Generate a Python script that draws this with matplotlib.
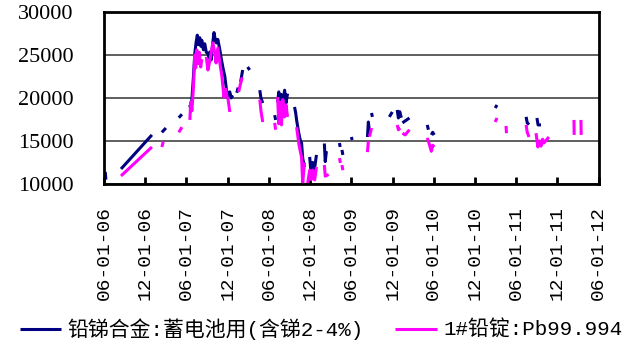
import numpy as np
import matplotlib
matplotlib.use('Agg')
import matplotlib.pyplot as plt
import matplotlib.dates as mdates

# lead-antimony alloy for batteries (navy); None marks a gap in the series
alloy_dates = [
    '2006-06-06', '2006-06-09', '2006-06-10',
    '2006-08-15', '2006-12-30', '2006-12-31',
    '2007-02-12', '2007-03-02', '2007-03-03',
    '2007-04-28', '2007-05-12', '2007-05-13',
    '2007-06-16', '2007-06-20', '2007-06-25', '2007-07-02', '2007-07-08',
    '2007-07-14', '2007-07-19', '2007-07-24', '2007-07-30', '2007-08-04',
    '2007-08-08', '2007-08-15', '2007-08-21', '2007-08-28', '2007-09-04',
    '2007-09-08', '2007-09-13', '2007-09-18', '2007-09-26', '2007-10-01',
    '2007-10-05', '2007-10-12', '2007-10-18', '2007-10-27', '2007-11-02',
    '2007-11-09', '2007-11-18', '2007-11-25', '2007-12-01', '2007-12-10',
    '2007-12-16', '2007-12-23', '2007-12-24',
    '2008-01-10', '2008-01-16', '2008-01-17',
    '2008-01-27', '2008-02-05', '2008-02-06',
    '2008-02-27', '2008-03-07', '2008-03-08',
    '2008-04-21', '2008-04-26', '2008-05-04', '2008-05-05',
    '2008-06-26', '2008-06-30', '2008-07-01',
    '2008-07-09', '2008-07-14', '2008-07-20', '2008-07-25', '2008-07-31',
    '2008-08-09', '2008-08-15', '2008-08-22', '2008-08-23',
    '2008-09-22', '2008-09-27', '2008-10-01', '2008-10-10', '2008-10-18',
    '2008-10-23', '2008-10-28', '2008-11-05', '2008-11-06',
    '2008-11-28', '2008-12-04', '2008-12-11', '2008-12-18', '2008-12-28',
    '2008-12-29',
    '2009-02-01', '2009-02-05', '2009-02-10', '2009-02-11',
    '2009-04-09', '2009-04-12', '2009-04-13',
    '2009-04-20', '2009-04-24', '2009-04-25',
    '2009-06-01', '2009-06-04', '2009-06-05',
    '2009-08-11', '2009-08-15', '2009-08-20', '2009-08-21',
    '2009-08-29', '2009-09-02', '2009-09-03',
    '2009-11-16', '2009-11-29', '2009-11-30',
    '2009-12-21', '2009-12-26', '2010-01-01', '2010-01-08', '2010-01-09',
    '2010-01-13', '2010-02-13', '2010-02-14',
    '2010-05-03', '2010-05-08', '2010-05-09',
    '2010-05-21', '2010-05-27', '2010-06-03', '2010-06-04',
    '2011-02-28', '2011-03-08', '2011-03-09',
    '2011-07-15', '2011-07-20', '2011-07-28', '2011-07-29',
    '2011-09-01', '2011-09-06', '2011-09-19',
]
alloy_values = [
    11400, 10500, None,
    11740, 15700, None,
    16000, 16500, None,
    17700, 18100, None,
    19200, 18600, 19800, 22500, 25200,
    26500, 27300, 26200, 27000, 26000,
    26700, 25600, 26300, 25300, 25200,
    24650, 25350, 24400, 26500, 27600,
    27000, 26400, 26800, 25600, 24600,
    23600, 22500, 21000, 20100, 20700,
    20000, 20300, None,
    20600, 21200, None,
    21860, 23250, None,
    23600, 23250, None,
    20900, 20000, 19400, None,
    18000, 17440, None,
    19500, 20700, 18950, 20400, 19200,
    20900, 19400, 20500, None,
    18950, 18250, 17440, 16000, 15000,
    14760, 13000, 11970, None,
    13140, 11280, 12500, 11500, 13370,
    None,
    14700, 12600, 13800, None,
    14760, 14300, None,
    13950, 13370, None,
    15460, 15100, None,
    15460, 17200, 16000, None,
    18250, 17800, None,
    17800, 18370, None,
    18600, 17670, 18400, 17700, None,
    17100, 17670, None,
    16860, 16300, None,
    15700, 16000, 15700, None,
    18830, 19180, None,
    17800, 17100, 16900, None,
    17670, 16860, 16860,
]

# 1# lead ingot Pb99.994 (magenta)
ingot_dates = [
    '2006-08-15', '2006-12-30', '2006-12-31',
    '2007-02-12', '2007-02-18', '2007-02-19',
    '2007-04-28', '2007-05-12', '2007-05-13',
    '2007-06-16', '2007-06-20', '2007-06-25', '2007-07-02', '2007-07-08',
    '2007-07-12', '2007-07-17', '2007-07-22', '2007-07-28', '2007-08-03',
    '2007-08-08', '2007-08-09',
    '2007-08-28', '2007-09-04', '2007-09-10', '2007-09-17', '2007-09-26',
    '2007-10-05', '2007-10-10', '2007-10-18', '2007-10-27', '2007-11-05',
    '2007-11-14', '2007-11-22', '2007-11-28', '2007-11-29',
    '2007-12-01', '2007-12-10', '2007-12-11',
    '2008-01-18', '2008-01-27', '2008-02-03', '2008-02-04',
    '2008-04-21', '2008-04-26', '2008-05-04', '2008-05-05',
    '2008-06-26', '2008-06-30', '2008-07-01',
    '2008-07-09', '2008-07-14', '2008-07-20', '2008-07-26', '2008-08-01',
    '2008-08-09', '2008-08-15', '2008-08-22', '2008-08-23',
    '2008-10-01', '2008-10-12', '2008-10-23', '2008-10-28', '2008-11-05',
    '2008-11-06',
    '2008-11-19', '2008-11-28', '2008-12-05', '2008-12-11', '2008-12-20',
    '2008-12-28', '2008-12-29',
    '2009-02-01', '2009-02-05', '2009-02-20', '2009-02-21',
    '2009-04-09', '2009-04-13', '2009-04-14',
    '2009-04-20', '2009-04-24', '2009-04-25',
    '2009-08-11', '2009-08-15', '2009-08-16',
    '2009-08-20', '2009-08-29', '2009-08-30',
    '2009-12-21', '2009-12-26', '2010-01-03', '2010-01-04',
    '2010-01-13', '2010-01-25', '2010-02-13', '2010-02-14',
    '2010-05-03', '2010-05-10', '2010-05-21', '2010-05-27', '2010-06-03',
    '2010-06-04',
    '2011-02-28', '2011-03-08', '2011-03-09',
    '2011-04-17', '2011-04-19', '2011-04-20',
    '2011-07-15', '2011-07-20', '2011-07-28', '2011-07-29',
    '2011-08-28', '2011-09-05', '2011-09-12', '2011-09-19', '2011-09-26',
    '2011-10-02', '2011-10-24', '2011-10-25',
    '2012-02-12', '2012-02-13', '2012-02-14',
    '2012-03-14', '2012-03-15',
]
ingot_values = [
    10930, 14300, None,
    14300, 14900, None,
    16000, 16600, None,
    17440, 19530, 18500, 21300, 25000,
    23500, 25580, 24000, 25300, 23600,
    24500, None,
    24770, 23250, 24000, 25000, 26400,
    25200, 24070, 25800, 24070, 22500,
    20100, 21000, 20100, None,
    20100, 18370, None,
    20700, 21700, 22400, None,
    19800, 18500, 17200, None,
    17100, 16300, None,
    20100, 17000, 19500, 16860, 19800,
    17800, 19180, 17800, None,
    16600, 14500, 13100, 10100, 12500,
    None,
    10100, 11600, 10500, 11600, 10460,
    11970, None,
    12200, 10900, 11100, None,
    13000, 12440, None,
    12200, 11600, None,
    13700, 15000, None,
    15500, 16500, None,
    16860, 16300, 16500, None,
    15900, 15700, 16300, None,
    15350, 14800, 13800, 14500, 14300,
    None,
    17200, 17670, None,
    16740, 15900, None,
    16860, 16000, 15460, None,
    15900, 14300, 15000, 14400, 15200,
    14760, 15460, None,
    17440, 15700, None,
    17440, 15700,
]

alloy_label = '铅锑合金:蓄电池用(含锑2-4%)'
ingot_label = '1#铅锭:Pb99.994'
tick_dates = ['2006-06-01', '2006-12-01', '2007-06-01', '2007-12-01',
              '2008-06-01', '2008-12-01', '2009-06-01', '2009-12-01',
              '2010-06-01', '2010-12-01', '2011-06-01', '2011-12-01',
              '2012-06-01']
y_ticks = [10000, 15000, 20000, 25000, 30000]


def to_series(dates, values):
    d = np.array(dates, dtype='datetime64[D]')
    v = np.array([np.nan if x is None else x for x in values], dtype=float)
    return d, v


fig = plt.figure(figsize=(6.27, 3.51), dpi=100)
ax = fig.add_axes([0.166, 0.476, 0.789, 0.490])

d, v = to_series(alloy_dates, alloy_values)
ax.plot(d, v, color='#000080', lw=2.2, solid_capstyle='butt', label=alloy_label)
d, v = to_series(ingot_dates, ingot_values)
ax.plot(d, v, color='#ff00ff', lw=2.2, solid_capstyle='butt', label=ingot_label)

ticks = np.array(tick_dates, dtype='datetime64[D]')
ax.set_xlim(ticks[0], ticks[-1])
ax.set_xticks(ticks)
ax.xaxis.set_major_formatter(mdates.DateFormatter('%m-%d-%y'))
ax.set_ylim(10000, 30000)
ax.set_yticks(y_ticks)
ax.yaxis.grid(True, color='#333333', lw=1.1)
ax.set_axisbelow(True)

for s in ax.spines.values():
    s.set_linewidth(2)
    s.set_color('black')

ax.tick_params(axis='x', direction='in', length=5, width=2, pad=16)
ax.tick_params(axis='y', direction='in', length=0, pad=22)
for lab in ax.get_xticklabels():
    lab.set_rotation(90)
    lab.set_family('Liberation Mono')
    lab.set_fontsize(14)
for lab in ax.get_yticklabels():
    lab.set_family('Liberation Serif')
    lab.set_fontsize(16)

fig.legend(loc='center', bbox_to_anchor=(0.512, 0.062), ncol=2, frameon=False,
           handlelength=2.0, handletextpad=0.3, columnspacing=1.5,
           prop={'family': ['Liberation Mono', 'Noto Sans CJK SC'], 'size': 15})

fig.savefig('out.png', dpi=100)
